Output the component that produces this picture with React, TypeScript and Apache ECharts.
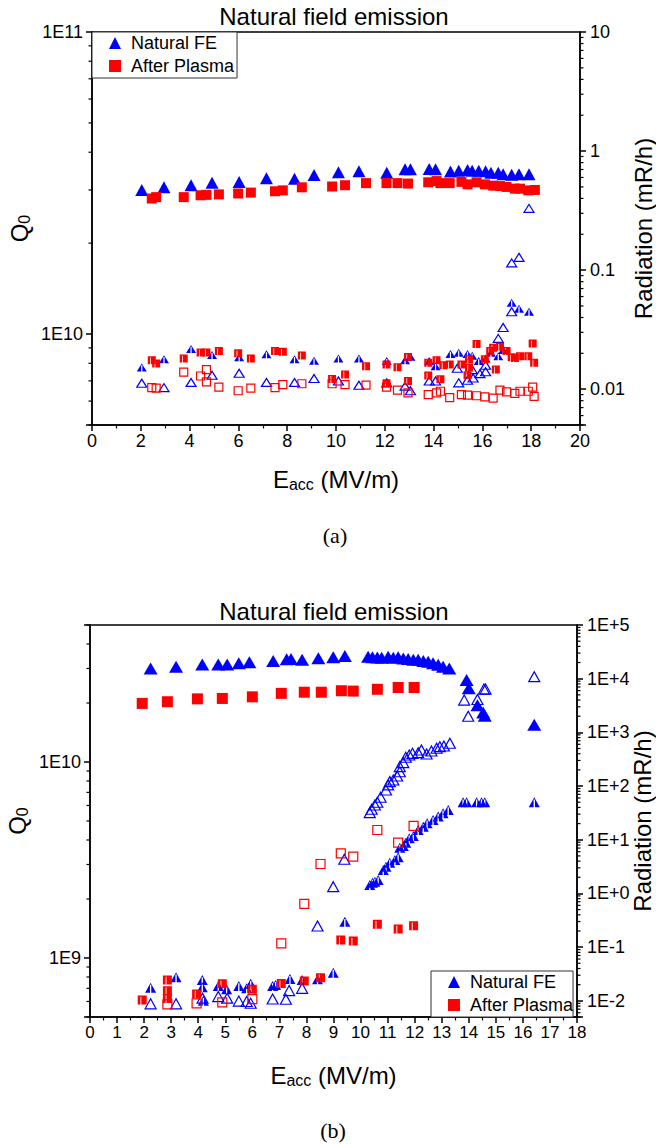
import React, { useEffect, useRef } from 'react';
import * as echarts from 'echarts';

const FONT = 'Liberation Sans, Arial, sans-serif';
const BLUE = '#0000ff';
const RED = '#ff0000';

// ---------- (a) ----------
const aNfeE = [2.04, 2.95, 4.06, 4.92, 6.03, 7.15, 8.30, 9.10, 10.10, 10.94, 12.08, 12.83, 13.05, 13.82, 14.08, 14.69, 15.03, 15.39, 15.58, 15.85, 16.13, 16.35, 16.65, 16.85, 17.20, 17.50, 17.91];
const aNfeQ0 = [3.00e10, 3.06e10, 3.11e10, 3.17e10, 3.19e10, 3.28e10, 3.27e10, 3.36e10, 3.43e10, 3.46e10, 3.42e10, 3.51e10, 3.51e10, 3.52e10, 3.51e10, 3.45e10, 3.47e10, 3.49e10, 3.47e10, 3.47e10, 3.46e10, 3.42e10, 3.42e10, 3.38e10, 3.37e10, 3.38e10, 3.38e10];
const aApE = [2.45, 2.63, 3.76, 4.45, 4.69, 5.20, 5.99, 6.51, 7.50, 7.82, 8.60, 9.84, 10.37, 11.23, 12.07, 12.52, 12.95, 13.78, 14.12, 14.28, 14.66, 15.14, 15.39, 15.76, 16.10, 16.44, 16.72, 16.99, 17.33, 17.54, 17.88, 18.15];
const aApQ0 = [2.81e10, 2.84e10, 2.84e10, 2.88e10, 2.89e10, 2.90e10, 2.92e10, 2.94e10, 2.97e10, 2.99e10, 3.06e10, 3.08e10, 3.11e10, 3.16e10, 3.16e10, 3.16e10, 3.15e10, 3.18e10, 3.21e10, 3.16e10, 3.16e10, 3.19e10, 3.13e10, 3.18e10, 3.13e10, 3.10e10, 3.09e10, 3.07e10, 3.03e10, 3.03e10, 2.99e10, 3.00e10];

const aNfeRadOpen = [
  [2.04, 0.0112], [2.95, 0.0103], [4.06, 0.0114], [4.92, 0.0131], [6.03, 0.0136], [7.15, 0.0114], [8.30, 0.0114], [9.10, 0.0123],
  [10.10, 0.0117], [10.94, 0.0108], [12.08, 0.0113], [12.83, 0.0106], [13.05, 0.0097], [13.82, 0.0117], [14.08, 0.0117],
  [14.97, 0.0150], [15.03, 0.0113], [15.39, 0.0119], [15.58, 0.0146], [15.62, 0.0124], [15.90, 0.0135], [16.13, 0.0159],
  [16.13, 0.0140], [16.65, 0.0267], [16.85, 0.0330], [17.20, 0.0447], [17.20, 0.115], [17.50, 0.128], [17.91, 0.33],
];
const aNfeRadHalf = [
  [2.04, 0.0152], [2.95, 0.0178], [4.06, 0.0217], [4.92, 0.0194], [6.03, 0.0185], [7.15, 0.0196], [8.30, 0.0178], [9.10, 0.0173],
  [10.10, 0.0181], [10.94, 0.0181], [12.08, 0.0172], [12.83, 0.0175], [13.05, 0.0187], [13.82, 0.0172], [14.08, 0.0156],
  [14.69, 0.0197], [15.03, 0.0202], [15.39, 0.0197], [15.58, 0.0191], [15.85, 0.0172], [16.13, 0.0181], [16.35, 0.0202],
  [16.65, 0.0189], [16.85, 0.0213], [17.20, 0.0531], [17.50, 0.0473], [17.91, 0.0447],
];
const aApRadOpen = [
  [2.45, 0.0103], [2.63, 0.0102], [3.76, 0.0139], [4.45, 0.0129], [4.69, 0.0146], [4.69, 0.0115], [5.20, 0.0104], [5.99, 0.0097],
  [6.51, 0.0102], [7.50, 0.0103], [7.82, 0.0109], [8.60, 0.0111], [9.84, 0.0111], [10.37, 0.0109], [11.23, 0.0108], [12.07, 0.0104],
  [12.52, 0.0098], [12.95, 0.0093], [13.78, 0.0090], [14.12, 0.0093], [14.28, 0.0096], [14.66, 0.0085], [15.14, 0.0090],
  [15.39, 0.0089], [15.76, 0.0088], [16.10, 0.0086], [16.44, 0.0084], [16.72, 0.0098], [16.99, 0.0095], [17.33, 0.0092],
  [17.54, 0.0096], [17.88, 0.0096], [18.06, 0.0104], [18.12, 0.0087],
];
const aApRadHalf = [
  [2.45, 0.0175], [2.63, 0.0164], [3.76, 0.0181], [4.45, 0.0203], [4.69, 0.0203], [5.20, 0.0209], [5.99, 0.0200], [6.51, 0.0181],
  [7.50, 0.0209], [7.82, 0.0206], [8.60, 0.0192], [9.84, 0.0122], [10.37, 0.0133], [11.23, 0.0156], [12.07, 0.0161], [12.07, 0.0112],
  [12.52, 0.0153], [12.95, 0.0186], [12.95, 0.0117], [13.78, 0.0167], [13.78, 0.0130], [14.12, 0.0175], [14.28, 0.0121],
  [14.40, 0.0159], [14.66, 0.0161], [15.14, 0.0161], [15.39, 0.0131], [15.45, 0.0178], [15.45, 0.0152], [15.76, 0.0239],
  [16.10, 0.0178], [16.32, 0.0209], [16.44, 0.0223], [16.55, 0.0146], [16.72, 0.0227], [16.99, 0.0209], [17.20, 0.0185],
  [17.33, 0.0183], [17.54, 0.0189], [17.88, 0.0189], [18.06, 0.0242], [18.12, 0.0167],
];

// ---------- (b) ----------
const bNfeE = [2.24, 3.18, 4.15, 4.74, 5.07, 5.50, 5.89, 6.77, 7.27, 7.43, 7.84, 8.44, 8.99, 9.42, 10.28, 10.44, 10.62, 10.78, 11.02, 11.21, 11.39, 11.58, 11.76, 11.95, 12.13, 12.32, 12.50, 12.68, 12.87, 13.05, 13.28, 13.92, 14.00, 14.32, 14.53, 14.59, 16.42];
const bNfeQ0 = [3.00e10, 3.06e10, 3.14e10, 3.14e10, 3.14e10, 3.19e10, 3.23e10, 3.28e10, 3.34e10, 3.35e10, 3.32e10, 3.38e10, 3.42e10, 3.47e10, 3.44e10, 3.42e10, 3.41e10, 3.40e10, 3.44e10, 3.40e10, 3.42e10, 3.37e10, 3.35e10, 3.32e10, 3.32e10, 3.28e10, 3.25e10, 3.19e10, 3.13e10, 3.06e10, 3.00e10, 2.62e10, 2.38e10, 1.95e10, 1.79e10, 1.72e10, 1.55e10];
const bApE = [1.93, 2.86, 3.97, 4.89, 6.00, 7.07, 7.92, 8.55, 9.29, 9.73, 10.62, 11.39, 11.98];
const bApQ0 = [1.99e10, 2.03e10, 2.10e10, 2.11e10, 2.15e10, 2.24e10, 2.27e10, 2.27e10, 2.31e10, 2.30e10, 2.35e10, 2.40e10, 2.40e10];

const bNfeRadOpen = [
  [2.24, 0.0088], [3.18, 0.0088], [4.16, 0.0112], [4.74, 0.012], [5.07, 0.0112], [5.50, 0.0099], [5.79, 0.0097], [5.94, 0.009],
  [6.75, 0.0108], [7.24, 0.0107], [7.36, 0.0155], [7.84, 0.0171], [8.41, 0.248], [8.99, 1.34], [9.40, 4.33],
  [10.34, 32], [10.41, 37], [10.53, 44.5], [10.62, 49.9], [10.74, 61.8], [10.94, 84.5], [11.02, 105], [11.08, 121], [11.21, 130],
  [11.35, 154], [11.45, 185], [11.45, 230], [11.58, 273], [11.67, 344], [11.80, 379], [11.92, 407], [12.13, 419], [12.25, 470],
  [12.44, 396], [12.62, 451], [12.81, 506], [12.93, 542], [13.08, 558], [13.30, 627],
  [13.83, 4000], [13.98, 2000], [14.32, 4100], [14.56, 6400], [14.62, 6400], [16.42, 10900],
];
const bNfeRadHalf = [
  [2.24, 0.0176], [3.18, 0.0275], [4.15, 0.0245], [4.15, 0.0179], [4.19, 0.010], [4.74, 0.0189], [5.05, 0.0164], [5.50, 0.0189],
  [5.79, 0.0171], [5.94, 0.0207], [6.75, 0.0189], [6.86, 0.0198], [7.39, 0.0256], [7.84, 0.0245], [8.41, 0.0253], [8.99, 0.0335],
  [9.42, 0.298],
  [10.34, 1.44], [10.44, 1.59], [10.53, 1.66], [10.65, 1.78], [10.84, 2.74], [10.94, 3.16], [11.08, 3.75], [11.27, 4.2],
  [11.39, 4.72], [11.45, 7.13], [11.58, 7.67], [11.67, 8.83], [11.80, 10.7], [11.95, 11.8], [12.13, 15.2], [12.32, 17.5],
  [12.46, 20.3], [12.68, 23.4], [12.87, 27], [13.05, 31.1], [13.24, 35.9],
  [13.79, 49.9], [13.92, 49.9], [14.29, 49.9], [14.47, 49.9], [14.59, 49.9], [16.42, 49.9],
];
const bApRadOpen = [
  [2.86, 0.0086], [3.94, 0.009], [4.89, 0.0094], [6.00, 0.0108], [7.07, 0.118], [7.92, 0.637], [8.52, 3.54], [9.27, 5.6],
  [9.73, 4.84], [10.62, 15.2], [11.39, 8.83], [11.96, 18.1],
];
const bApRadHalf = [
  [1.93, 0.0104], [2.86, 0.0245], [2.86, 0.0154], [2.86, 0.0111], [3.94, 0.0134], [4.89, 0.0207], [6.00, 0.0164], [7.07, 0.021],
  [7.92, 0.0235], [8.52, 0.027], [9.27, 0.136], [9.73, 0.13], [10.62, 0.267], [11.39, 0.218], [11.96, 0.251],
];

const HALF_TRI = 'path://M5,0L10,10L5.6,10L5.6,2.2L4.4,2.2L4.4,10L0,10Z';
const HALF_SQ = 'path://M0,0H10V10H4V1.5H3V10H0Z';

const pairs = (xs: number[], ys: number[]) => xs.map((x, i) => [x, ys[i]]);

function logMinors(min: number, max: number) {
  const out: number[] = [];
  for (let e = Math.floor(Math.log10(min)); e <= Math.ceil(Math.log10(max)); e++) {
    for (let k = 2; k <= 9; k++) {
      const v = k * Math.pow(10, e);
      if (v >= min * 0.999 && v <= max * 1.001) out.push(v);
    }
  }
  return out;
}

function minorTickSeries(xAxisIndex: number, yAxisIndex: number, anchor: number, values: number[], dir: number) {
  return {
    type: 'custom',
    xAxisIndex,
    yAxisIndex,
    silent: true,
    clip: false,
    z: 10,
    data: values.map((v) => [anchor, v]),
    renderItem: (_p: any, api: any) => {
      const p = api.coord([api.value(0), api.value(1)]);
      return {
        type: 'line',
        shape: { x1: p[0], y1: p[1], x2: p[0] + dir * 3.5, y2: p[1] },
        style: { stroke: '#000', lineWidth: 1.2 },
      };
    },
  };
}

const isDecade = (v: number) => Math.abs(Math.log10(v) - Math.round(Math.log10(v))) < 1e-6;
const fmtE = (v: number) => (isDecade(v) ? '1E' + Math.round(Math.log10(v)) : '');
const fmtDec = (v: number) => {
  if (!isDecade(v)) return '';
  const e = Math.round(Math.log10(v));
  return e >= 0 ? String(Math.pow(10, e)) : Math.pow(10, e).toFixed(-e);
};
const fmtPM = (v: number) => {
  if (!isDecade(v)) return '';
  const e = Math.round(Math.log10(v));
  return '1E' + (e >= 0 ? '+' : '-') + Math.abs(e);
};

const axisLineStyle = { lineStyle: { color: '#000', width: 1.5 } };
const tickStyle = { length: 6, lineStyle: { color: '#000', width: 1.5 } };
const nameRich = {
  m: { fontSize: 24, fontFamily: FONT, color: '#000', lineHeight: 26 },
  s: { fontSize: 16, fontFamily: FONT, color: '#000', verticalAlign: 'bottom', lineHeight: 9 },
};

function xAxisCfg(grid: number, max: number, interval: number, fontSize: number, nameGap: number) {
  return {
    gridIndex: grid,
    type: 'value',
    min: 0,
    max,
    interval,
    axisLine: axisLineStyle,
    axisTick: tickStyle,
    minorTick: { show: true, splitNumber: 2, length: 3.5, lineStyle: { color: '#000', width: 1.2 } },
    splitLine: { show: false },
    minorSplitLine: { show: false },
    axisLabel: { color: '#000', fontSize, fontFamily: FONT, margin: 7 },
    name: '{m|E}{s|acc}{m| (MV/m)}',
    nameLocation: 'middle',
    nameGap,
    nameMoveOverlap: false,
    nameTextStyle: { rich: nameRich },
  };
}

function yAxisCfg(grid: number, pos: string, min: number, max: number, fmt: any, fontSize: number, name: string, nameGap: number, margin: number) {
  return {
    gridIndex: grid,
    type: 'log',
    logBase: 10,
    position: pos,
    min,
    max,
    axisLine: { show: true, ...axisLineStyle },
    axisTick: tickStyle,
    splitLine: { show: false },
    axisLabel: { color: '#000', fontSize, fontFamily: FONT, formatter: fmt, margin },
    name,
    nameLocation: 'middle',
    nameRotate: 90,
    nameGap,
    nameMoveOverlap: false,
    nameTextStyle: { rich: nameRich, fontSize: 24, fontFamily: FONT, color: '#000' },
  };
}

function scatter(name: string, x: number, y: number, data: any[], symbol: string, size: any, color: string, hollow: boolean) {
  return {
    type: 'scatter',
    name,
    xAxisIndex: x,
    yAxisIndex: y,
    data,
    symbol,
    symbolSize: size,
    itemStyle: hollow
      ? { color: 'rgba(255,255,255,0)', borderColor: color, borderWidth: 1.2, opacity: 1 }
      : { color, borderWidth: 0, opacity: 1 },
    emphasis: { disabled: true },
  };
}

const legendCfg = (left: number, top: number, padRight: number) => ({
  left,
  top,
  orient: 'vertical',
  data: [
    { name: 'Natural FE', icon: 'triangle' },
    { name: 'After Plasma', icon: 'rect' },
  ],
  itemWidth: 12,
  itemHeight: 12,
  itemGap: 5,
  padding: [2, padRight, 3, 17],
  borderColor: '#333',
  borderWidth: 1,
  backgroundColor: '#fff',
  selectedMode: false,
  z: 3,
  textStyle: { fontSize: 18, fontFamily: FONT, color: '#000', lineHeight: 18, padding: [0, 0, 0, 5] },
});

const titleStyle = { fontSize: 24, fontWeight: 'normal', fontFamily: FONT, color: '#000' };
const captionStyle = { fontSize: 22, fontWeight: 'normal', fontFamily: 'Liberation Serif, serif', color: '#000' };

export default function App() {
  const ref = useRef<HTMLDivElement>(null);
  useEffect(() => {
    if (!ref.current) return;
    const chart = echarts.init(ref.current, undefined, { renderer: 'svg' });
    const option: any = {
      animation: false,
      backgroundColor: '#fff',
      title: [
        { text: 'Natural field emission', left: 334, top: 4, padding: 0, textAlign: 'center', textStyle: titleStyle },
        { text: '(a)', left: 335, top: 524, padding: 0, textAlign: 'center', textStyle: captionStyle },
        { text: 'Natural field emission', left: 334, top: 599, padding: 0, textAlign: 'center', textStyle: titleStyle },
        { text: '(b)', left: 333, top: 1119, padding: 0, textAlign: 'center', textStyle: captionStyle },
      ],
      legend: [legendCfg(92, 32, 3), legendCfg(431, 971, 0)],
      grid: [
        { left: 92, top: 32, width: 488, height: 393, show: true, borderColor: '#000', borderWidth: 1.5, outerBoundsMode: 'none', containLabel: false },
        { left: 90, top: 625, width: 487, height: 392, show: true, borderColor: '#000', borderWidth: 1.5, outerBoundsMode: 'none', containLabel: false },
      ],
      xAxis: [xAxisCfg(0, 20, 2, 18, 41), xAxisCfg(1, 18, 1, 17, 45)],
      yAxis: [
        yAxisCfg(0, 'left', 5e9, 1e11, fmtE, 18, '{m|Q}{s|0}', 60, 9),
        yAxisCfg(0, 'right', 0.005, 10, fmtDec, 18, 'Radiation (mR/h)', 51, 10),
        yAxisCfg(1, 'left', 5e8, 5e10, fmtE, 18, '{m|Q}{s|0}', 60, 9),
        yAxisCfg(1, 'right', 0.005, 1e5, fmtPM, 18, 'Radiation (mR/h)', 53, 10),
      ],
      series: [
        scatter('Natural FE', 0, 0, pairs(aNfeE, aNfeQ0), 'triangle', [13, 12], BLUE, false),
        scatter('After Plasma', 0, 0, pairs(aApE, aApQ0), 'rect', 10, RED, false),
        scatter('a-nfe-open', 0, 1, aNfeRadOpen, 'triangle', [10, 8], BLUE, true),
        scatter('a-nfe-half', 0, 1, aNfeRadHalf, HALF_TRI, [10, 8], BLUE, false),
        scatter('a-ap-open', 0, 1, aApRadOpen, 'rect', 8, RED, true),
        scatter('a-ap-half', 0, 1, aApRadHalf, HALF_SQ, 8, RED, false),
        scatter('Natural FE', 1, 2, pairs(bNfeE, bNfeQ0), 'triangle', [14, 12], BLUE, false),
        scatter('After Plasma', 1, 2, pairs(bApE, bApQ0), 'rect', 11, RED, false),
        scatter('b-nfe-open', 1, 3, bNfeRadOpen, 'triangle', [11, 10], BLUE, true),
        scatter('b-nfe-half', 1, 3, bNfeRadHalf, HALF_TRI, [11, 10], BLUE, false),
        scatter('b-ap-open', 1, 3, bApRadOpen, 'rect', 9, RED, true),
        scatter('b-ap-half', 1, 3, bApRadHalf, HALF_SQ, 9, RED, false),
        minorTickSeries(0, 0, 0, logMinors(5e9, 1e11), -1),
        minorTickSeries(0, 1, 20, logMinors(0.005, 10), 1),
        minorTickSeries(1, 2, 0, logMinors(5e8, 5e10), -1),
        minorTickSeries(1, 3, 18, logMinors(0.005, 1e5), 1),
      ],
    };
    chart.setOption(option);
    return () => chart.dispose();
  }, []);
  return <div ref={ref} style={{ position: 'absolute', left: 0, top: 0, width: 656, height: 1144 }} />;
}
